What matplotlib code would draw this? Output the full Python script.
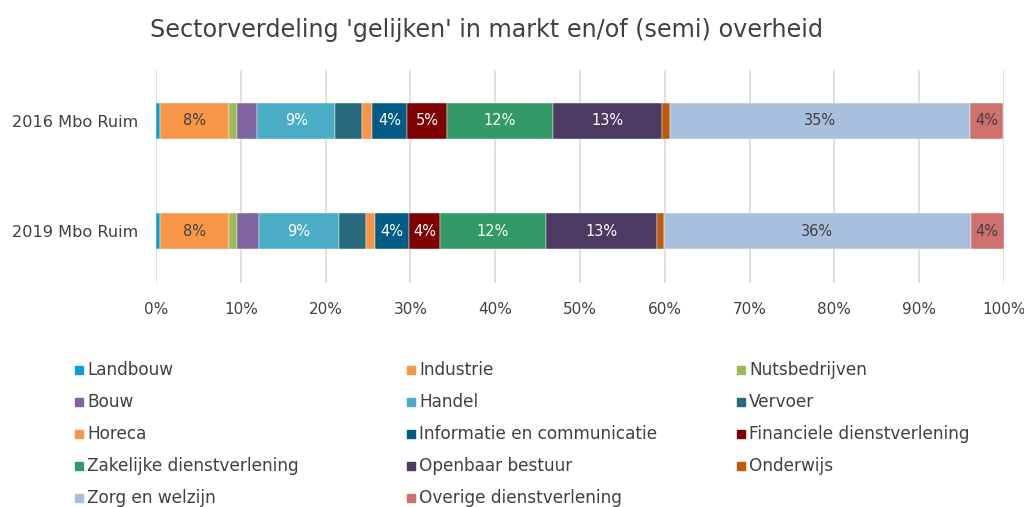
import matplotlib
matplotlib.use("Agg")
import matplotlib.pyplot as plt
from matplotlib.patches import Rectangle
import numpy as np

plt.rcParams['font.family'] = ['DejaVu Sans']

title = "Sectorverdeling 'gelijken' in markt en/of (semi) overheid"
groups = ["2016 Mbo Ruim", "2019 Mbo Ruim"]
sectors = ["Landbouw", "Industrie", "Nutsbedrijven", "Bouw", "Handel", "Vervoer",
           "Horeca", "Informatie en communicatie", "Financiele dienstverlening",
           "Zakelijke dienstverlening", "Openbaar bestuur", "Onderwijs",
           "Zorg en welzijn", "Overige dienstverlening"]
values_2016 = [0.5, 8.1, 1.0, 2.3, 9.25, 3.1, 1.25, 4.1, 4.7, 12.5, 12.85, 0.95, 35.4, 3.9]
values_2019 = [0.5, 8.1, 1.0, 2.5, 9.45, 3.25, 1.05, 4.0, 3.6, 12.5, 13.1, 0.9, 36.1, 3.9]
colors = ["#0A9FDC", "#F79646", "#9BBB59", "#8064A2", "#4BACC6", "#276A7C",
          "#F79646", "#005C85", "#7F0000", "#339966", "#4B3A62", "#BF5A08",
          "#A8C0DD", "#CF716E"]
label_colors = ["#404040", "#404040", "#404040", "#ffffff", "#ffffff", "#ffffff",
                "#404040", "#ffffff", "#ffffff", "#ffffff", "#ffffff", "#ffffff",
                "#404040", "#404040"]

data = np.array([values_2016, values_2019])
xticks = np.arange(0, 101, 10)
xticklabels = [f"{t}%" for t in xticks]

fig = plt.figure(figsize=(10.24, 5.07), dpi=100)
ax = fig.add_axes([156/1024, 1-283/507, 848/1024, 213/507])

ypos = np.arange(len(groups))
left = np.zeros(len(groups))
for i, name in enumerate(sectors):
    vals = data[:, i]
    ax.barh(ypos, vals, left=left, height=0.325, color=colors[i],
            edgecolor="white", linewidth=0.3, zorder=3)
    for j, v in enumerate(vals):
        if v >= 3.5:
            ax.text(left[j] + v/2, ypos[j], f"{round(v):.0f}%", ha="center", va="center",
                    fontsize=10.5, color=label_colors[i], zorder=4)
    left += vals

ax.set_xlim(0, 100)
ax.set_ylim(1.47, -0.46)
ax.set_xticks(xticks)
ax.set_xticklabels(xticklabels, fontsize=11, color="#404040")
ax.set_yticks(ypos)
ax.set_yticklabels(groups, fontsize=11.6, color="#404040")
ax.tick_params(axis="y", length=0, pad=13)
ax.tick_params(axis="x", length=0, pad=14)
ax.xaxis.grid(True, color="#D9D9D9", linewidth=1.2, zorder=0)
ax.set_axisbelow(True)
for s in ax.spines.values():
    s.set_visible(False)

fig.text(486/1024, 1-30/507, title, ha="center", va="center", fontsize=17.2, color="#404040")

# legend (row-major, 3 columns)
col_x = [75, 407, 737]
row_y = [370, 402, 434, 466, 498]
for k, name in enumerate(sectors):
    r, c = divmod(k, 3)
    x = col_x[c]
    y = row_y[r]
    fig.patches.append(Rectangle((x/1024, 1-(y+4)/507), 8/1024, 8/507,
                                 transform=fig.transFigure, color=colors[k], figure=fig))
    fig.text((x+12)/1024, 1-y/507, name, ha="left", va="center", fontsize=12.2, color="#404040")

fig.savefig("out.png", dpi=100)
